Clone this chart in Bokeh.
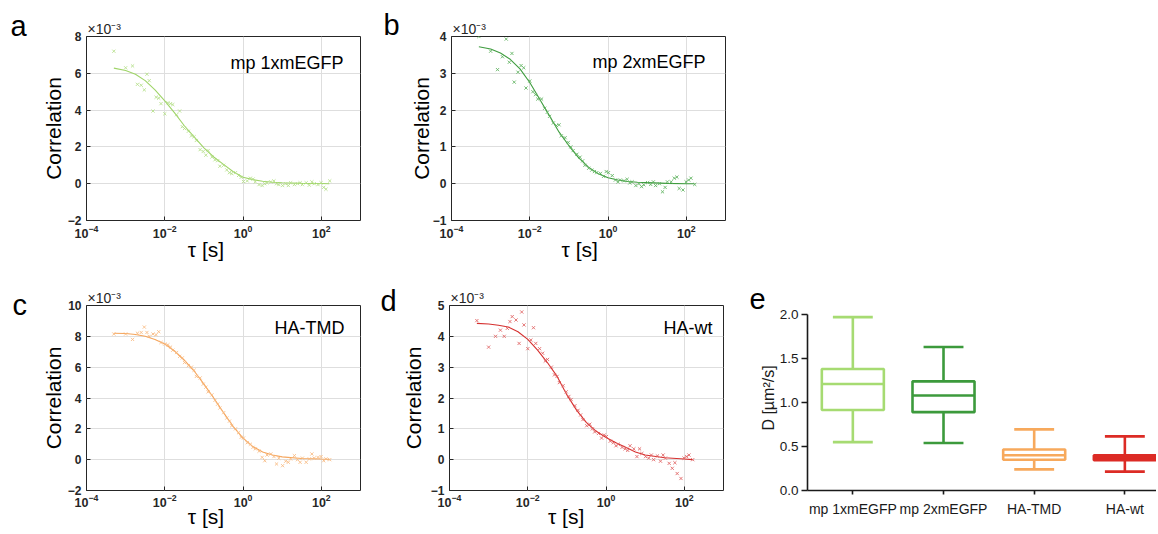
from bokeh.plotting import figure
from bokeh.layouts import row, column
from bokeh.models import Range1d, FixedTicker, Label, PrintfTickFormatter
from bokeh.embed import file_html
from bokeh.resources import INLINE
import numpy as np

FONT = "Liberation Sans"
NB = "\u00a0"

# ---------------- data ----------------
# lag times of the correlator (s)
tau = [5e-4, 1e-3, 1.5e-3, 2e-3, 2.5e-3, 3e-3, 3.5e-3, 4e-3, 5e-3, 6e-3, 7e-3, 8e-3,
       1e-2, 1.2e-2, 1.4e-2, 1.6e-2, 2e-2, 2.4e-2, 2.8e-2, 3.2e-2, 4e-2, 4.8e-2, 5.6e-2, 6.4e-2,
       0.08, 0.096, 0.112, 0.128, 0.16, 0.192, 0.224, 0.256, 0.32, 0.384, 0.448, 0.512,
       0.64, 0.768, 0.896, 1.024, 1.28, 1.536, 1.792, 2.048, 2.56, 3.072, 3.584, 4.096,
       5.12, 6.144, 7.168, 8.192, 10.24, 12.29, 14.34, 16.38, 20.48, 24.58, 28.67, 32.77,
       40.96, 49.15, 57.34, 65.54, 81.92, 98.3, 114.7, 131.1, 163.8]

# correlation values (x 1e-3)
corr_a = [7.2, 6.3, 6.4, 5.4, 5.35, 5.1, 5.95, 5.6, 3.95, 4.7, 4.65, 4.35,
          3.8, 4.4, 4.35, 4.3, 3.75, 3.95, 3.1, 3.0, 2.85, 2.6, 2.55, 2.35,
          1.85, 1.75, 1.55, 1.8, 1.45, 1.3, 1.25, 0.95, 1.0, 0.75, 0.6, 0.55,
          0.6, 0.45, 0.35, 0.12, 0.15, 0.3, 0.25, 0.1, -0.05, -0.1, 0.0, 0.05,
          0.1, 0.15, 0.0, -0.05, -0.1, 0.0, -0.1, 0.05, -0.05, 0.0, 0.05, -0.05,
          0.05, -0.08, 0.1, 0.0, -0.05, 0.05, -0.2, -0.3, 0.15]
corr_b = [4.0, 3.6, 3.1, 3.45, 3.93, 3.3, 3.54, 2.76, 3.03, 3.21, 3.15, 2.6,
          2.79, 2.5, 2.42, 2.3, 2.3, 2.05, 1.94, 1.83, 1.65, 1.58, 1.6, 1.3,
          1.25, 1.12, 1.0, 0.9, 0.8, 0.72, 0.62, 0.5, 0.42, 0.37, 0.33, 0.3,
          0.28, 0.2, 0.33, 0.3, 0.22, 0.1, 0.05, 0.1, 0.08, 0.12, 0.02, 0.05,
          -0.05, 0.0, -0.08, -0.03, 0.03, -0.02, 0.05, -0.05, 0.0, -0.22, -0.1, 0.05,
          0.05, 0.15, 0.18, -0.13, -0.17, 0.05, 0.1, 0.15, -0.02]
corr_c = [8.15, 8.15, 7.8, 8.2, 8.25, 8.6, 8.25, 8.0, 8.15, 8.1, 8.3, 7.6,
          7.5, 7.45, 7.3, 7.1, 6.95, 6.7, 6.6, 6.3, 6.1, 6.0, 5.8, 5.4,
          5.3, 4.9, 4.7, 4.4, 4.2, 3.85, 3.6, 3.35, 3.05, 2.7, 2.5, 2.2,
          2.0, 1.75, 1.45, 1.4, 1.1, 1.0, 0.8, 0.7, 0.55, 0.15, -0.07, 0.3,
          0.37, 0.2, -0.28, 0.1, -0.39, -0.1, -0.17, 0.05, 0.26, 0.0, -0.17, 0.1,
          -0.17, 0.05, 0.37, 0.1, 0.15, 0.2, -0.07, 0.05, 0.0]
corr_d = [4.51, 3.65, 4.0, 4.2, 4.0, 4.26, 4.48, 4.64, 4.53, 3.77, 4.79, 4.37,
          3.6, 3.88, 4.28, 3.77, 3.6, 3.45, 3.2, 3.25, 3.0, 2.75, 2.7, 2.5,
          2.4, 2.2, 2.05, 1.95, 1.75, 1.6, 1.45, 1.3, 1.1, 1.15, 1.0, 0.9,
          0.85, 0.7, 0.8, 0.75, 0.6, 0.55, 0.45, 0.5, 0.4, 0.35, 0.3, 0.45,
          0.35, 0.1, 0.35, 0.2, 0.1, 0.05, 0.15, 0.0, 0.12, -0.05, 0.15, 0.05,
          -0.12, -0.28, -0.1, -0.45, -0.61, 0.05, 0.1, 0.15, 0.0]

# fitted curves
fit_tau = [5e-4, 1e-3, 1.78e-3, 3.16e-3, 5.62e-3, 1e-2, 1.78e-2, 3.16e-2, 5.62e-2, 0.1,
           0.178, 0.316, 0.562, 1.0, 1.78, 3.16, 5.62, 10.0, 31.6, 100.0, 160.0]
fit_a = [6.28, 6.15, 5.95, 5.6, 5.1, 4.5, 3.85, 3.15, 2.55, 1.95, 1.45, 1.05, 0.65, 0.35,
         0.22, 0.13, 0.08, 0.05, 0.02, 0.01, 0.0]
fit_b = [3.72, 3.66, 3.55, 3.38, 3.12, 2.75, 2.3, 1.85, 1.4, 1.03, 0.7, 0.45, 0.27, 0.16,
         0.1, 0.06, 0.04, 0.03, 0.01, 0.0, 0.0]
fit_c = [8.2, 8.18, 8.12, 8.0, 7.8, 7.5, 7.05, 6.45, 5.75, 4.9, 4.0, 3.05, 2.15, 1.4,
         0.85, 0.5, 0.3, 0.18, 0.08, 0.04, 0.03]
fit_d = [4.42, 4.4, 4.36, 4.3, 4.15, 3.9, 3.55, 3.15, 2.7, 2.1, 1.6, 1.2, 0.92, 0.72,
         0.55, 0.4, 0.25, 0.15, 0.06, 0.02, 0.0]

x_ticks = [1e-4, 1e-2, 1.0, 1e2]

# box plot of diffusion coefficients
categories = ["mp 1xmEGFP", "mp 2xmEGFP", "HA-TMD", "HA-wt"]
cat_pos = [1, 2, 3, 4]
d_low = [0.55, 0.54, 0.24, 0.215]
d_q1 = [0.915, 0.89, 0.35, 0.345]
d_med = [1.21, 1.08, 0.40, 0.375]
d_q3 = [1.38, 1.24, 0.465, 0.40]
d_high = [1.97, 1.63, 0.695, 0.615]
box_colors = ["#a6db72", "#3c9a3c", "#f7a95c", "#dc2b25"]
box_fills = ["white", "white", "white", "#dc2b25"]
d_ticks = [0.0, 0.5, 1.0, 1.5, 2.0]


def fcs_panel(w, h, bl, br, bt, bb, yr, yticks, y, fy, line_c, mark_c, name,
              letter, letter_xy, name_xy, ylab_std, xtick_std, xlab_std, xlab_pad):
    p = figure(width=w, height=h, x_axis_type="log", x_range=Range1d(1e-4, 1e3),
               y_range=Range1d(*yr), output_backend="svg", toolbar_location=None,
               min_border_left=bl, min_border_right=br, min_border_top=bt,
               min_border_bottom=bb)
    p.title.visible = False
    p.outline_line_color = "#262626"
    p.outline_line_width = 1
    p.xaxis.ticker = FixedTicker(ticks=x_ticks)
    p.yaxis.ticker = FixedTicker(ticks=yticks)
    for ax in (p.xaxis[0], p.yaxis[0]):
        ax.axis_line_color = None
        ax.major_tick_in = 4
        ax.major_tick_out = 0
        ax.major_tick_line_color = "#262626"
        ax.minor_tick_line_color = None
        ax.major_label_text_font = FONT
        ax.major_label_text_font_style = "bold"
        ax.major_label_text_font_size = "12px"
        ax.major_label_text_color = "#262626"
        ax.axis_label_text_font = FONT
        ax.axis_label_text_font_style = "normal"
        ax.axis_label_text_font_size = "21px"
        ax.axis_label_text_color = "black"
    p.xaxis.major_label_text_font_size = "12.5px"
    p.xaxis.major_label_standoff = xtick_std
    p.yaxis.major_label_standoff = 5
    p.xaxis.axis_label = "τ [s]" + NB * xlab_pad
    p.yaxis.axis_label = "Correlation"
    p.yaxis.axis_label_standoff = ylab_std
    p.xaxis.axis_label_standoff = xlab_std
    p.grid.grid_line_color = "#dedede"
    p.grid.grid_line_width = 1

    p.line(fit_tau, fy, line_color=line_c, line_width=1.1)
    p.scatter(tau, y, marker="x", size=4.5, line_color=mark_c, line_width=1, alpha=0.85)

    # panel letter, placed in the left side panel (not clipped by the frame)
    p.add_layout(Label(x=letter_xy[0], y=letter_xy[1], x_units="screen", y_units="screen",
                       text=letter, text_font=FONT, text_font_size="29px",
                       text_color="black", text_baseline="alphabetic"), "left")
    # exponent of the y axis, placed above the frame
    p.add_layout(Label(x=1, y=8, x_units="screen", y_units="screen",
                       text="×10⁻³", text_font=FONT, text_font_size="14px",
                       text_color="#262626", text_baseline="alphabetic"), "above")
    p.add_layout(Label(x=name_xy[0], y=name_xy[1], x_units="screen", y_units="screen",
                       text=name, text_font=FONT, text_font_size="18px", text_align="right",
                       text_color="black", text_baseline="alphabetic"))
    return p


# row 1: height 268, frames 36..220
pa = fcs_panel(380, 268, 86, 20, 36, 48, (-2, 8), [-2, 0, 2, 4, 6, 8], corr_a, fit_a,
               "#9fd468", "#b5df8a", "mp 1xmEGFP", "a", (-12, 195), (257, 158), 0, 4, -3, 6)
pb = fcs_panel(360, 268, 71, 15, 36, 48, (-1, 4), [-1, 0, 1, 2, 3, 4], corr_b, fit_b,
               "#3e9c3e", "#5fb35f", "mp 2xmEGFP", "b", (-7, 196), (254, 159), -3, 4, -3, 3)
# row 2: starts at 268, height 265, frames 305..490
pc = fcs_panel(380, 265, 86, 20, 37, 43, (-2, 10), [-2, 0, 2, 4, 6, 8, 10], corr_c, fit_c,
               "#f5a45a", "#f8ba80", "HA-TMD", "c", (-11, 186), (258, 163), 0, 3, -5, 6)
pd = fcs_panel(360, 265, 69, 17, 37, 43, (-1, 5), [-1, 0, 1, 2, 3, 4, 5], corr_d, fit_d,
               "#d6302f", "#e06262", "HA-wt", "d", (-2, 190), (263, 163), 3, 3, -5, 7)

# ---------------- panel e ----------------
pe = figure(width=416, height=265, x_range=Range1d(0.5, 4.349), y_range=Range1d(0, 2.102),
            output_backend="svg", toolbar_location=None,
            min_border_left=67, min_border_right=0, min_border_top=37, min_border_bottom=43)
pe.title.visible = False
pe.outline_line_color = None
pe.grid.visible = False
pe.xaxis.ticker = FixedTicker(ticks=cat_pos)
pe.xaxis.major_label_overrides = {c: n for c, n in zip(cat_pos, categories)}
pe.yaxis.ticker = FixedTicker(ticks=d_ticks)
pe.yaxis.formatter = PrintfTickFormatter(format="%.1f")
pe.yaxis.bounds = (0, 2.0)
for ax in (pe.xaxis[0], pe.yaxis[0]):
    ax.axis_line_color = "#1a1a1a"
    ax.axis_line_width = 1.6
    ax.major_tick_line_color = "#1a1a1a"
    ax.major_tick_line_width = 1.6
    ax.major_tick_in = 0
    ax.minor_tick_line_color = None
    ax.major_label_text_font = FONT
    ax.major_label_text_color = "#1a1a1a"
    ax.axis_label_text_font = FONT
    ax.axis_label_text_font_style = "normal"
    ax.axis_label_text_color = "#1a1a1a"
pe.xaxis.major_tick_out = 4
pe.yaxis.major_tick_out = 6
pe.xaxis.major_label_text_font_size = "14px"
pe.yaxis.major_label_text_font_size = "13.5px"
pe.xaxis.major_label_standoff = 6
pe.yaxis.major_label_standoff = 3
pe.yaxis.axis_label = "D [µm²/s]"
pe.yaxis.axis_label_text_font_size = "16px"
pe.yaxis.axis_label_standoff = 0

pos = np.array(cat_pos, dtype=float)
half_box = 0.342
half_cap = 0.22
pe.segment(pos, d_q3, pos, d_high, line_color=box_colors, line_width=2.6)
pe.segment(pos, d_low, pos, d_q1, line_color=box_colors, line_width=2.6)
pe.segment(pos - half_cap, d_high, pos + half_cap, d_high, line_color=box_colors, line_width=2.6)
pe.segment(pos - half_cap, d_low, pos + half_cap, d_low, line_color=box_colors, line_width=2.6)
pe.vbar(x=pos, width=2 * half_box, bottom=d_q1, top=d_q3, fill_color=box_fills,
        line_color=box_colors, line_width=2.6)
pe.segment(pos - half_box, d_med, pos + half_box, d_med, line_color=box_colors, line_width=2.6)
pe.add_layout(Label(x=9, y=192, x_units="screen", y_units="screen", text="e",
                    text_font=FONT, text_font_size="29px", text_color="black",
                    text_baseline="alphabetic"), "left")

layout = column(row(pa, pb, spacing=0), row(pc, pd, pe, spacing=0), spacing=0)
open("out.html", "w").write(file_html(layout, INLINE))
